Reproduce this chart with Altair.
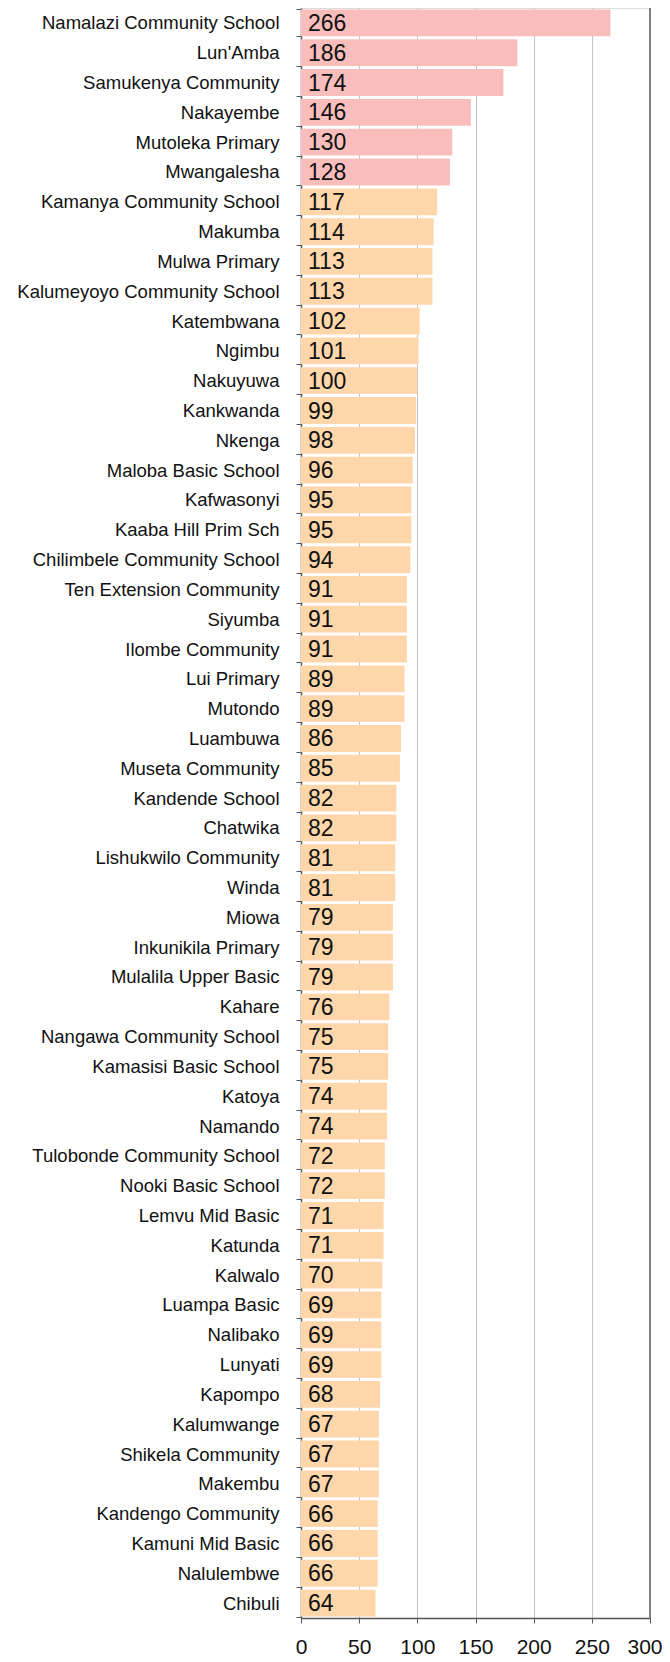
import altair as alt
import pandas as pd

schools = [
    "Namalazi Community School", "Lun'Amba", "Samukenya Community", "Nakayembe",
    "Mutoleka Primary", "Mwangalesha", "Kamanya Community School", "Makumba",
    "Mulwa Primary", "Kalumeyoyo Community School", "Katembwana", "Ngimbu",
    "Nakuyuwa", "Kankwanda", "Nkenga", "Maloba Basic School", "Kafwasonyi",
    "Kaaba Hill Prim Sch", "Chilimbele Community School", "Ten Extension Community",
    "Siyumba", "Ilombe Community", "Lui Primary", "Mutondo", "Luambuwa",
    "Museta Community", "Kandende School", "Chatwika", "Lishukwilo Community",
    "Winda", "Miowa", "Inkunikila Primary", "Mulalila Upper Basic", "Kahare",
    "Nangawa Community School", "Kamasisi Basic School", "Katoya", "Namando",
    "Tulobonde Community School", "Nooki Basic School", "Lemvu Mid Basic",
    "Katunda", "Kalwalo", "Luampa Basic", "Nalibako", "Lunyati", "Kapompo",
    "Kalumwange", "Shikela Community", "Makembu", "Kandengo Community",
    "Kamuni Mid Basic", "Nalulembwe", "Chibuli",
]
values = [
    266, 186, 174, 146, 130, 128, 117, 114, 113, 113, 102, 101, 100, 99, 98, 96,
    95, 95, 94, 91, 91, 91, 89, 89, 86, 85, 82, 82, 81, 81, 79, 79, 79, 76, 75,
    75, 74, 74, 72, 72, 71, 71, 70, 69, 69, 69, 68, 67, 67, 67, 66, 66, 66, 64,
]
groups = ["top"] * 6 + ["rest"] * 48
x_ticks = [0, 50, 100, 150, 200, 250, 300]

df = pd.DataFrame({"school": schools, "value": values, "group": groups})

W, H = 349, 1610
FONT = "Liberation Sans"

y_enc = alt.Y(
    "school:N", sort=schools, title=None,
    scale=alt.Scale(paddingInner=0.1, paddingOuter=0.05),
    axis=alt.Axis(tickBand="extent", tickSize=5, labelPadding=17,
                  labelFontSize=18.5, labelColor="#111111", labelFont=FONT,
                  domainColor="#555555", tickColor="#555555", labelLimit=400,
                  domainWidth=1.5),
)
x_enc = alt.X(
    "value:Q", title=None,
    scale=alt.Scale(domain=[0, 300], nice=False),
    axis=alt.Axis(values=x_ticks, grid=True, gridColor="#c4c4c4", tickSize=5,
                  labelPadding=13, labelFontSize=21, labelColor="#111111",
                  labelFont=FONT, domainColor="#555555", tickColor="#555555",
                  labelFlush=False, domainWidth=1.5,
                  labelAlign=alt.expr("datum.value == 300 ? 'right' : 'center'"),
                  labelOffset=alt.expr("datum.value == 300 ? 12 : 0")),
)

bars = alt.Chart(df).mark_bar().encode(
    x=x_enc, y=y_enc,
    color=alt.Color("group:N", scale=alt.Scale(domain=["top", "rest"],
                    range=["#F9BEBB", "#FFD7AA"]), legend=None),
)
labels = alt.Chart(df).mark_text(
    align="left", baseline="middle", dx=7, dy=1, fontSize=23, color="#111111", font=FONT
).encode(x=alt.datum(0), y=alt.Y("school:N", sort=schools), text="value:Q")
frame = alt.Chart(df).mark_rule(color="#808080", strokeWidth=2).encode(x=alt.datum(300))

chart = alt.layer(bars, labels, frame).properties(
    width=W, height=H,
    autosize=alt.AutoSizeParams(type="none"),
    padding={"left": 293, "top": 0, "right": 12, "bottom": 36},
).configure_view(stroke="#a8a8a8", strokeWidth=1).configure(font=FONT)

chart.save("out.html", embed_options={"renderer": "svg", "actions": False})
